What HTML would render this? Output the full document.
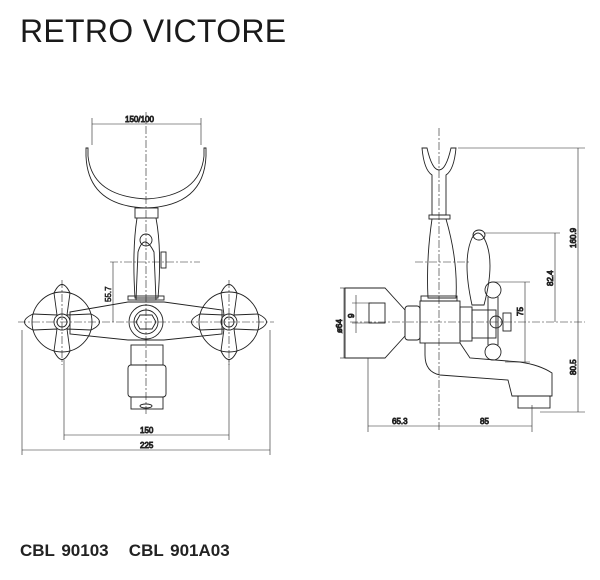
<!DOCTYPE html>
<html><head><style>
body{margin:0;background:#fff;width:600px;height:580px;overflow:hidden;position:relative;font-family:"Liberation Sans",sans-serif}
.t{position:absolute;left:20px;top:13px;font-size:32px;color:#1a1a1a;letter-spacing:0.3px}
.b{position:absolute;left:20px;top:541px;font-size:17px;font-weight:bold;color:#222;word-spacing:2px}
svg{position:absolute;left:0;top:0}
text{font-family:"Liberation Sans",sans-serif;font-size:8px;fill:#333}
</style></head><body>
<div class="t">RETRO VICTORE</div>
<div class="b">CBL 90103&nbsp;&nbsp;&nbsp;CBL 901A03</div>
<svg width="600" height="580" viewBox="0 0 600 580" fill="none" stroke="#222" stroke-width="0.9">
<!-- LEFT VIEW -->
<g stroke-dasharray="8 2 2 2" stroke-width="0.6">
<line x1="146" y1="112" x2="146" y2="415"/><line x1="18" y1="322" x2="274" y2="322"/>
<line x1="62" y1="280" x2="62" y2="365"/><line x1="229" y1="280" x2="229" y2="365"/>
<line x1="110" y1="262" x2="200" y2="262"/>
</g>
<line x1="92" y1="118" x2="92" y2="145" stroke-width="0.6"/><line x1="201" y1="118" x2="201" y2="145" stroke-width="0.6"/>
<line x1="92" y1="124" x2="201" y2="124" stroke-width="0.6"/>
<text x="125" y="122">150/100</text>
<path d="M88 148 L88 156 Q92 196 146 199 Q200 196 204 156 L204 148 L206 148 L206 156 Q204 206 146 208 Q88 206 86 156 L86 148 Z"/>
<rect x="135" y="208" width="23" height="10"/>
<path d="M137 218 Q132 250 135 298 L158 298 Q162 250 156 218"/>
<path d="M138 252 Q144 232 154 252 L156 300 L136 300 Z"/>
<circle cx="146" cy="240" r="6"/>
<rect x="161" y="252" width="5" height="16"/>
<rect x="128" y="296" width="36" height="4"/>
<path d="M70 312 L128 302 L164 302 L222 310 L222 334 L164 340 L128 340 L70 334 Z"/>
<circle cx="146" cy="322" r="17"/><circle cx="146" cy="322" r="12"/>
<polygon points="140,315 152,315 156,322 152,329 140,329 136,322"/>
<g id="h">
<circle cx="62" cy="322" r="30"/>
<path d="M54 293 Q62 276 70 293 L67 315 L91 314 Q108 322 91 330 L67 329 L70 351 Q62 368 54 351 L57 329 L33 330 Q16 322 33 314 L57 315 Z"/>
<circle cx="62" cy="322" r="8"/><circle cx="62" cy="322" r="5"/>
</g>
<use href="#h" x="167"/>
<rect x="131" y="345" width="32" height="20"/>
<rect x="128" y="365" width="38" height="32" rx="3"/>
<rect x="131" y="397" width="32" height="12"/>
<ellipse cx="146" cy="406" rx="6" ry="2"/>
<g stroke-width="0.6">
<line x1="113" y1="262" x2="113" y2="322"/><text x="-302" y="111" transform="rotate(-90)">55.7</text>
<line x1="64" y1="360" x2="64" y2="440"/><line x1="229" y1="360" x2="229" y2="440"/>
<line x1="22" y1="330" x2="22" y2="455"/><line x1="270" y1="330" x2="270" y2="455"/>
<line x1="64" y1="435" x2="229" y2="435"/><line x1="22" y1="450" x2="270" y2="450"/>
</g>
<text x="140" y="433">150</text><text x="140" y="448">225</text>
<!-- RIGHT VIEW -->
<g stroke-dasharray="8 2 2 2" stroke-width="0.6">
<line x1="439" y1="128" x2="439" y2="430"/><line x1="350" y1="322" x2="585" y2="322"/>
<line x1="415" y1="262" x2="470" y2="262"/>
</g>
<path d="M422 148 L427 148 Q432 170 439 170 Q446 170 451 148 L456 148 Q454 170 446 175 L446 215 L432 215 L432 175 Q424 170 422 148 Z"/>
<rect x="429" y="215" width="21" height="4"/>
<path d="M432 219 Q426 260 428 298 L456 298 Q458 260 446 219"/>
<rect x="421" y="296" width="36" height="5"/>
<rect x="420" y="301" width="40" height="42"/>
<rect x="405" y="306" width="15" height="34" rx="3"/>
<path d="M345 288 L385 288 L405 310 L405 336 L385 358 L345 358 Z"/>
<rect x="369" y="303" width="16" height="20"/>
<rect x="460" y="307" width="12" height="34"/>
<rect x="472" y="310" width="24" height="28"/>
<path d="M472 238 Q478 228 484 238 Q496 260 484 305 L472 305 Q462 260 472 238 Z"/>
<ellipse cx="479" cy="235" rx="6" ry="5"/>
<circle cx="493" cy="290" r="8"/><circle cx="493" cy="352" r="8"/>
<path d="M488 297 L488 345 M498 297 L498 345"/>
<circle cx="496" cy="322" r="6"/>
<rect x="503" y="313" width="8" height="18"/>
<path d="M425 343 L425 355 Q425 372 440 375 L508 380 L512 396 L552 396 L552 373 Q540 365 520 362 L470 358 L460 343"/>
<rect x="518" y="396" width="32" height="12"/>
<g stroke-width="0.6">
<line x1="458" y1="148" x2="585" y2="148"/><line x1="578" y1="148" x2="578" y2="412"/>
<line x1="484" y1="233" x2="560" y2="233"/><line x1="555" y1="233" x2="555" y2="322"/>
<line x1="493" y1="282" x2="530" y2="282"/><line x1="525" y1="282" x2="525" y2="362"/><line x1="505" y1="362" x2="530" y2="362"/>
<line x1="540" y1="412" x2="585" y2="412"/>
<line x1="340" y1="288" x2="350" y2="288"/><line x1="340" y1="358" x2="350" y2="358"/><line x1="344" y1="288" x2="344" y2="358"/>
<line x1="352" y1="303" x2="372" y2="303"/><line x1="352" y1="323" x2="372" y2="323"/><line x1="356" y1="295" x2="356" y2="333"/>
<line x1="368" y1="358" x2="368" y2="432"/><line x1="532" y1="405" x2="532" y2="432"/>
<line x1="368" y1="426" x2="532" y2="426"/>
</g>
<text x="-248" y="576" transform="rotate(-90)">160.9</text>
<text x="-286" y="553" transform="rotate(-90)">82.4</text>
<text x="-316" y="523" transform="rotate(-90)">75</text>
<text x="-375" y="576" transform="rotate(-90)">80.5</text>
<text x="-333" y="342" transform="rotate(-90)">ø64</text>
<text x="-318" y="354" transform="rotate(-90)">9</text>
<text x="392" y="424">65.3</text><text x="480" y="424">85</text>
</svg>
</body></html>
